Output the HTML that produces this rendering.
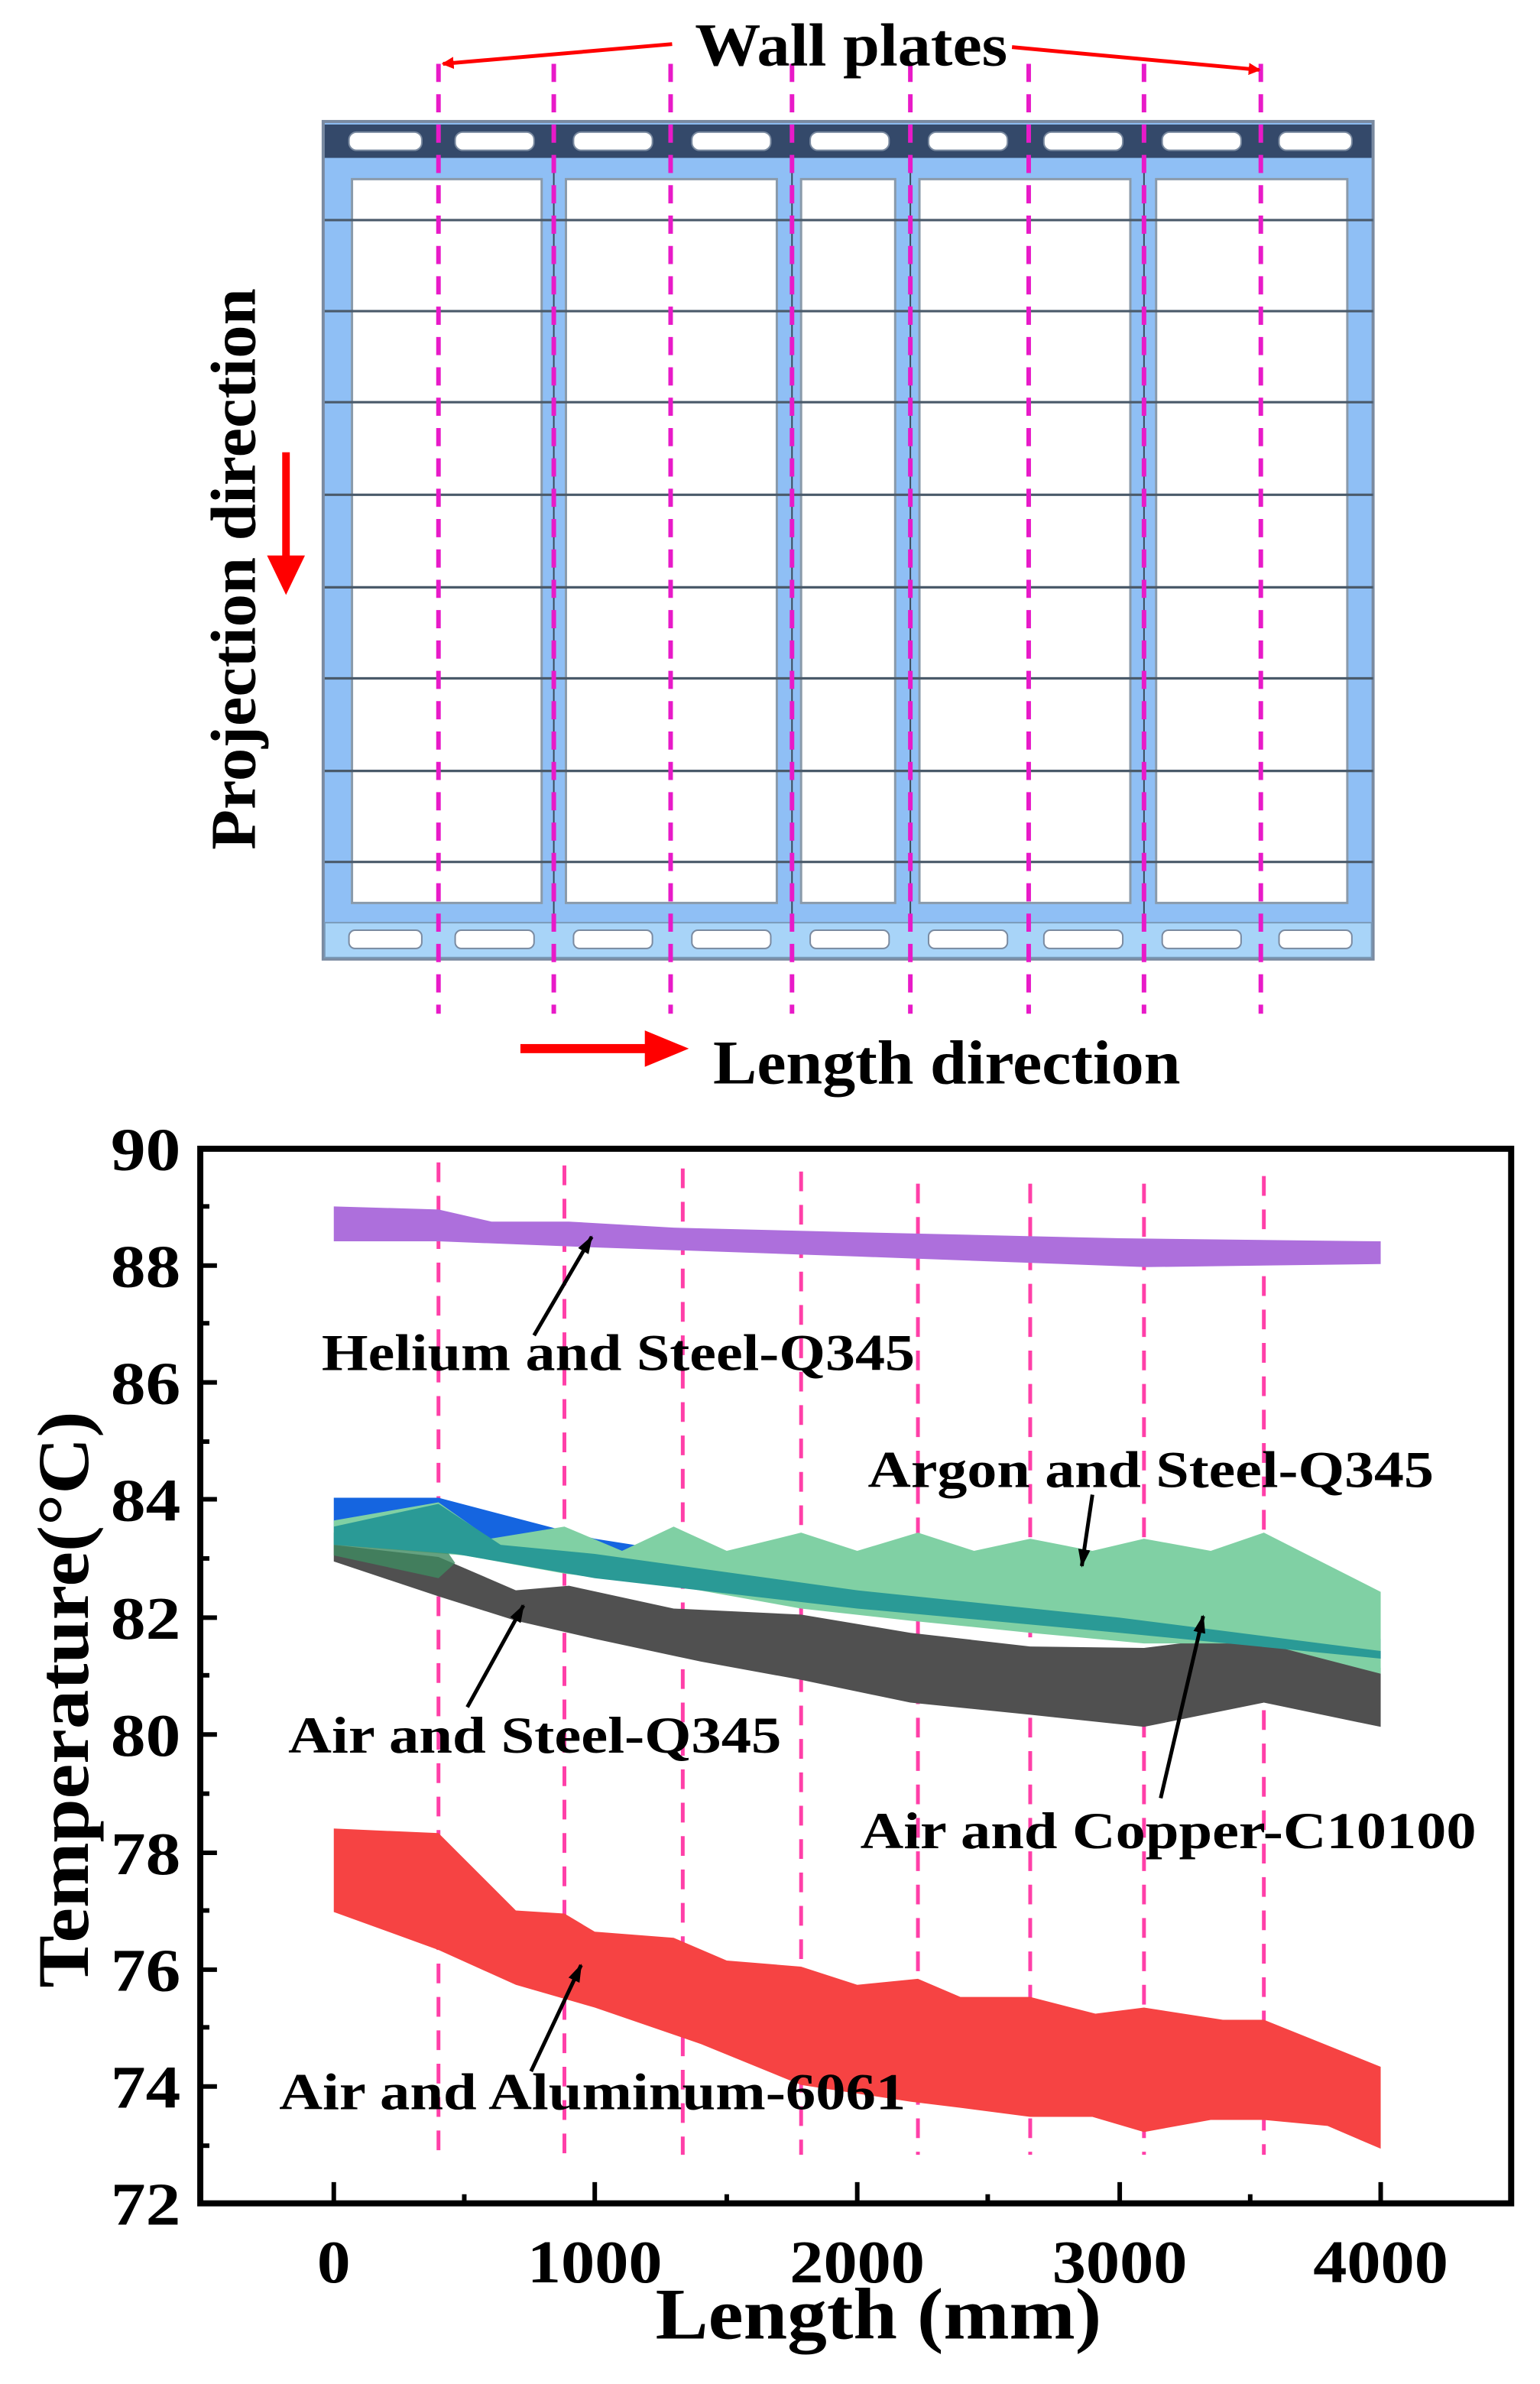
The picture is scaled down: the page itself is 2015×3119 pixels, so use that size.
<!DOCTYPE html>
<html><head><meta charset="utf-8"><style>
html,body{margin:0;padding:0;background:#fff;}
svg{display:block;}
text{font-family:"Liberation Serif",serif;font-weight:bold;fill:#000;}
</style></head><body>
<svg width="2015" height="3119" viewBox="0 0 1015 1571" xmlns="http://www.w3.org/2000/svg">
<defs>
<marker id="ar" markerWidth="8" markerHeight="8" refX="7" refY="4" orient="auto" markerUnits="userSpaceOnUse"><path d="M0,0 L8,4 L0,8 Z" fill="#f00"/></marker>
<marker id="ak" markerWidth="12" markerHeight="12" refX="11" refY="6" orient="auto" markerUnits="userSpaceOnUse"><path d="M0,2 L12,6 L0,10 Z" fill="#000"/></marker>
</defs>
<!-- TOP DIAGRAM -->
<rect x="213" y="80" width="692" height="552" fill="#8fbff5" stroke="#7a8aa0" stroke-width="2"/>
<rect x="214" y="82" width="690" height="22" fill="#34496a"/>
<rect x="214" y="608" width="690" height="23" fill="#a8d4f8" stroke="#7a9ab8" stroke-width="1"/>
<g fill="#fff" stroke="#7a8aa0" stroke-width="1">
<rect x="230" y="87" width="48" height="12" rx="5"/><rect x="300" y="87" width="52" height="12" rx="5"/><rect x="378" y="87" width="52" height="12" rx="5"/><rect x="456" y="87" width="52" height="12" rx="5"/><rect x="534" y="87" width="52" height="12" rx="5"/><rect x="612" y="87" width="52" height="12" rx="5"/><rect x="688" y="87" width="52" height="12" rx="5"/><rect x="766" y="87" width="52" height="12" rx="5"/><rect x="843" y="87" width="48" height="12" rx="5"/>
<rect x="230" y="613" width="48" height="12" rx="4"/><rect x="300" y="613" width="52" height="12" rx="4"/><rect x="378" y="613" width="52" height="12" rx="4"/><rect x="456" y="613" width="52" height="12" rx="4"/><rect x="534" y="613" width="52" height="12" rx="4"/><rect x="612" y="613" width="52" height="12" rx="4"/><rect x="688" y="613" width="52" height="12" rx="4"/><rect x="766" y="613" width="52" height="12" rx="4"/><rect x="843" y="613" width="48" height="12" rx="4"/>
</g>
<g fill="#fff" stroke="#8a9aaa" stroke-width="1.5">
<rect x="232" y="118" width="125" height="477"/><rect x="373" y="118" width="139" height="477"/><rect x="528" y="118" width="62" height="477"/><rect x="606" y="118" width="139" height="477"/><rect x="762" y="118" width="126" height="477"/>
</g>
<g stroke="#4a5a6a" stroke-width="1.6">
<line x1="214" y1="145" x2="905" y2="145"/><line x1="214" y1="205" x2="905" y2="205"/><line x1="214" y1="265" x2="905" y2="265"/><line x1="214" y1="326" x2="905" y2="326"/><line x1="214" y1="387" x2="905" y2="387"/><line x1="214" y1="447" x2="905" y2="447"/><line x1="214" y1="508" x2="905" y2="508"/><line x1="214" y1="568" x2="905" y2="568"/>
</g>
<g stroke="#3a4a5a" stroke-width="1"><line x1="365" y1="104" x2="365" y2="608"/><line x1="522" y1="104" x2="522" y2="608"/><line x1="600" y1="104" x2="600" y2="608"/><line x1="754" y1="104" x2="754" y2="608"/></g>
<g stroke="#e81ac8" stroke-width="3" stroke-dasharray="12,8">
<line x1="289" y1="42" x2="289" y2="668"/><line x1="365" y1="42" x2="365" y2="668"/><line x1="442" y1="42" x2="442" y2="668"/><line x1="522" y1="42" x2="522" y2="668"/><line x1="600" y1="42" x2="600" y2="668"/><line x1="678" y1="42" x2="678" y2="668"/><line x1="754" y1="42" x2="754" y2="668"/><line x1="831" y1="42" x2="831" y2="668"/>
</g>
<line x1="443" y1="29" x2="292" y2="42" stroke="#f00" stroke-width="2.5" marker-end="url(#ar)"/>
<line x1="667" y1="31" x2="830" y2="46" stroke="#f00" stroke-width="2.5" marker-end="url(#ar)"/>
<text x="458" y="43" font-size="40" textLength="206" lengthAdjust="spacingAndGlyphs">Wall plates</text>
<text transform="translate(168,375) rotate(-90)" font-size="42" text-anchor="middle" textLength="370" lengthAdjust="spacingAndGlyphs">Projection direction</text>
<rect x="186" y="298" width="5" height="70" fill="#f00"/><path d="M176,366 L201,366 L188.5,392 Z" fill="#f00"/>
<rect x="343" y="688" width="84" height="6" fill="#f00"/><path d="M425,679 L454,691 L425,703 Z" fill="#f00"/>
<text x="470" y="714" font-size="41" textLength="308" lengthAdjust="spacingAndGlyphs">Length direction</text>
<!-- CHART -->
<g stroke="#ff3fa8" stroke-width="2.5" stroke-dasharray="13,9">
<line x1="289" y1="766" x2="289" y2="1420"/><line x1="372" y1="768" x2="372" y2="1420"/><line x1="450" y1="770" x2="450" y2="1420"/><line x1="528" y1="772" x2="528" y2="1420"/><line x1="605" y1="780" x2="605" y2="1420"/><line x1="679" y1="780" x2="679" y2="1420"/><line x1="754" y1="780" x2="754" y2="1420"/><line x1="833" y1="775" x2="833" y2="1420"/>
</g>
<polygon fill="#ad6fdc" points="220,795 289,797 324,805 375,805 444,809 565,812 738,816 910,818 910,833 755,835 565,828 392,822 289,818 220,818"/>
<polygon fill="#1565e0" points="220,987 289,987 392,1014 565,1041 738,1060 910,1080 910,1093 738,1070 565,1056 392,1037 289,1018 220,1006"/>
<polygon fill="#505050" points="220,1018 289,1026 340,1048 375,1045 444,1060 528,1064 600,1076 679,1085 754,1086 833,1076 910,1099 910,1138 833,1122 754,1138 679,1130 600,1122 528,1107 462,1095 392,1080 340,1068 289,1052 220,1029"/>
<polygon fill="#80d0a4" points="220,1002 289,990 323,1014 372,1006 410,1022 444,1006 479,1022 528,1010 565,1022 605,1010 642,1022 679,1014 720,1022 754,1014 798,1022 833,1010 910,1049 910,1103 833,1083 754,1083 679,1076 600,1068 528,1060 444,1045 372,1037 306,1025 220,1018"/>
<polygon fill="#3f8a60" opacity="0.8" points="220,1010 289,1014 300,1030 289,1040 220,1025"/>
<polygon fill="#2a9a96" points="220,1006 289,991 330,1018 392,1024 565,1048 738,1066 910,1088 910,1093 738,1076 565,1060 392,1040 300,1024 220,1018"/>
<polygon fill="#f64343" points="220,1205 289,1208 340,1259 372,1261 392,1273 444,1277 479,1292 528,1296 565,1308 605,1304 633,1316 679,1316 722,1327 754,1323 806,1331 833,1331 910,1362 910,1416 875,1401 833,1397 798,1397 754,1405 720,1395 679,1395 633,1389 600,1385 528,1374 462,1347 392,1323 340,1308 289,1285 220,1260"/>
<rect x="132" y="757" width="864" height="695" fill="none" stroke="#000" stroke-width="4"/>
<g stroke="#000" stroke-width="3">
<line x1="132" y1="834" x2="143" y2="834"/><line x1="132" y1="911" x2="143" y2="911"/><line x1="132" y1="988" x2="143" y2="988"/><line x1="132" y1="1066" x2="143" y2="1066"/><line x1="132" y1="1143" x2="143" y2="1143"/><line x1="132" y1="1221" x2="143" y2="1221"/><line x1="132" y1="1298" x2="143" y2="1298"/><line x1="132" y1="1375" x2="143" y2="1375"/>
<line x1="132" y1="795" x2="138" y2="795"/><line x1="132" y1="872" x2="138" y2="872"/><line x1="132" y1="950" x2="138" y2="950"/><line x1="132" y1="1027" x2="138" y2="1027"/><line x1="132" y1="1104" x2="138" y2="1104"/><line x1="132" y1="1182" x2="138" y2="1182"/><line x1="132" y1="1259" x2="138" y2="1259"/><line x1="132" y1="1336" x2="138" y2="1336"/><line x1="132" y1="1414" x2="138" y2="1414"/>
<line x1="220" y1="1452" x2="220" y2="1438"/><line x1="392" y1="1452" x2="392" y2="1438"/><line x1="565" y1="1452" x2="565" y2="1438"/><line x1="738" y1="1452" x2="738" y2="1438"/><line x1="910" y1="1452" x2="910" y2="1438"/>
<line x1="306" y1="1452" x2="306" y2="1446"/><line x1="479" y1="1452" x2="479" y2="1446"/><line x1="651" y1="1452" x2="651" y2="1446"/><line x1="824" y1="1452" x2="824" y2="1446"/>
</g>
<g font-size="40" text-anchor="end">
<text x="119" y="771" textLength="46" lengthAdjust="spacingAndGlyphs">90</text><text x="119" y="848" textLength="46" lengthAdjust="spacingAndGlyphs">88</text><text x="119" y="925" textLength="46" lengthAdjust="spacingAndGlyphs">86</text><text x="119" y="1002" textLength="46" lengthAdjust="spacingAndGlyphs">84</text><text x="119" y="1080" textLength="46" lengthAdjust="spacingAndGlyphs">82</text><text x="119" y="1157" textLength="46" lengthAdjust="spacingAndGlyphs">80</text><text x="119" y="1235" textLength="46" lengthAdjust="spacingAndGlyphs">78</text><text x="119" y="1312" textLength="46" lengthAdjust="spacingAndGlyphs">76</text><text x="119" y="1389" textLength="46" lengthAdjust="spacingAndGlyphs">74</text><text x="119" y="1466" textLength="46" lengthAdjust="spacingAndGlyphs">72</text>
</g>
<g font-size="40" text-anchor="middle">
<text x="220" y="1504" textLength="22" lengthAdjust="spacingAndGlyphs">0</text><text x="392" y="1504" textLength="89" lengthAdjust="spacingAndGlyphs">1000</text><text x="565" y="1504" textLength="89" lengthAdjust="spacingAndGlyphs">2000</text><text x="738" y="1504" textLength="89" lengthAdjust="spacingAndGlyphs">3000</text><text x="910" y="1504" textLength="89" lengthAdjust="spacingAndGlyphs">4000</text>
</g>
<text x="579" y="1541" font-size="48" text-anchor="middle" textLength="294" lengthAdjust="spacingAndGlyphs">Length (mm)</text>
<text transform="translate(58,1120) rotate(-90)" font-size="48" text-anchor="middle" textLength="380" lengthAdjust="spacingAndGlyphs">Temperature(°C)</text>
<g font-size="34">
<text x="212" y="903" textLength="391" lengthAdjust="spacingAndGlyphs">Helium and Steel-Q345</text>
<text x="572" y="980" textLength="373" lengthAdjust="spacingAndGlyphs">Argon and Steel-Q345</text>
<text x="190" y="1155" textLength="325" lengthAdjust="spacingAndGlyphs">Air and Steel-Q345</text>
<text x="567" y="1218" textLength="406" lengthAdjust="spacingAndGlyphs">Air and Copper-C10100</text>
<text x="184" y="1390" textLength="413" lengthAdjust="spacingAndGlyphs">Air and Aluminum-6061</text>
</g>
<g stroke="#000" stroke-width="2.5">
<line x1="352" y1="880" x2="390" y2="815" marker-end="url(#ak)"/>
<line x1="720" y1="985" x2="713" y2="1032" marker-end="url(#ak)"/>
<line x1="308" y1="1125" x2="345" y2="1058" marker-end="url(#ak)"/>
<line x1="765" y1="1185" x2="793" y2="1065" marker-end="url(#ak)"/>
<line x1="350" y1="1365" x2="383" y2="1295" marker-end="url(#ak)"/>
</g>
</svg>
</body></html>
